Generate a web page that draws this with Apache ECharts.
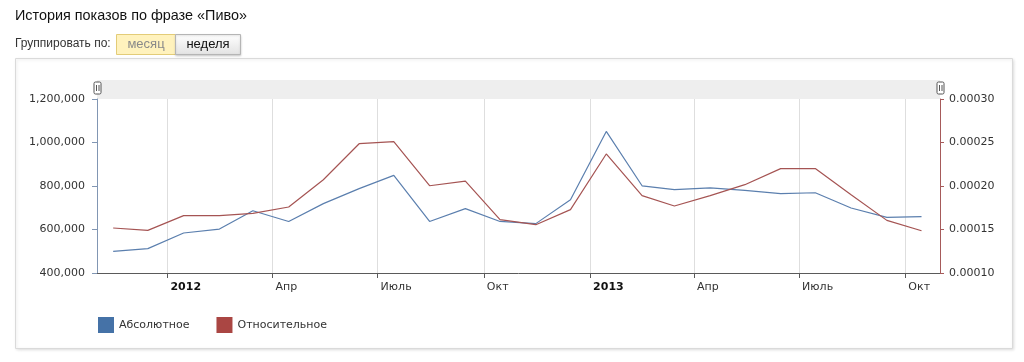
<!DOCTYPE html>
<html>
<head>
<meta charset="utf-8">
<script src="https://cdn.jsdelivr.net/npm/echarts@6/dist/echarts.min.js"></script>
<style>
html,body{margin:0;padding:0;background:#fff;}
#chart{width:1024px;height:362px;}
</style>
</head>
<body>
<div id="chart"></div>
<script>
// ---- data ----
var months = ['2011-11-15','2011-12-15','2012-01-15','2012-02-15','2012-03-15','2012-04-15','2012-05-15','2012-06-15','2012-07-15','2012-08-15','2012-09-15','2012-10-15','2012-11-15','2012-12-15','2013-01-15','2013-02-15','2013-03-15','2013-04-15','2013-05-15','2013-06-15','2013-07-15','2013-08-15','2013-09-15','2013-10-15'];
var absoluteValues = [499000,512000,584000,602000,686000,637000,719000,788000,849000,637000,696000,637000,627000,737000,1051000,801000,783000,791000,780000,765000,769000,699000,656000,659000];
var relativeValues = [0.0001517,0.0001490,0.0001659,0.0001659,0.0001685,0.0001759,0.0002072,0.0002486,0.0002509,0.0002003,0.0002057,0.0001613,0.0001555,0.0001728,0.0002368,0.0001889,0.0001770,0.0001890,0.0002015,0.0002200,0.0002200,0.0001900,0.0001605,0.0001486];
var monthNames = ['', '', '', 'Апр', '', '', 'Июль', '', '', 'Окт', '', ''];
var seriesNames = ['Абсолютное', 'Относительное'];
var titleText = 'История показов по фразе «Пиво»';
var groupLabel = 'Группировать по:';
var buttonLabels = ['месяц', 'неделя'];

var chart = echarts.init(document.getElementById('chart'), null, {renderer: 'canvas'});
var DAY = 24 * 3600 * 1000;
var absData = months.map(function (m, i) { return [m, absoluteValues[i]]; });
var relData = months.map(function (m, i) { return [m, relativeValues[i]]; });
var axisFont = 'DejaVu Sans';

function handle(x) {
  return {
    type: 'group', x: x, y: 82,
    children: [
      {type: 'rect', shape: {x: -3.5, y: 0, width: 7, height: 12, r: 1.5}, style: {fill: '#fff', stroke: '#555', lineWidth: 1}},
      {type: 'line', shape: {x1: -1, y1: 3, x2: -1, y2: 9}, style: {stroke: '#555', lineWidth: 1}},
      {type: 'line', shape: {x1: 1.5, y1: 3, x2: 1.5, y2: 9}, style: {stroke: '#555', lineWidth: 1}}
    ]
  };
}

var option = {
  animation: false,
  backgroundColor: '#fff',
  color: ['#4572A7', '#AA4643'],
  graphic: [
    {type: 'text', left: 15, top: 9, style: {text: titleText, fontFamily: 'Liberation Sans', fontSize: 14.4, fill: '#111'}},
    {type: 'text', left: 15, top: 38, style: {text: groupLabel, fontFamily: 'Liberation Sans', fontSize: 12, fill: '#333'}},
    {type: 'rect', shape: {x: 116.5, y: 34.5, width: 59, height: 20}, style: {fill: '#fff2bd', stroke: '#e3cc78', lineWidth: 1}},
    {type: 'text', x: 146, y: 44.5, style: {text: buttonLabels[0], fontFamily: 'Liberation Sans', fontSize: 13, fill: '#8a8a8a', align: 'center', verticalAlign: 'middle'}},
    {type: 'rect', shape: {x: 175.5, y: 34.5, width: 65, height: 20},
      style: {fill: new echarts.graphic.LinearGradient(0, 0, 0, 1, [{offset: 0, color: '#ffffff'}, {offset: 1, color: '#e2e2e2'}]), stroke: '#b5b5b5', lineWidth: 1, shadowBlur: 2, shadowColor: 'rgba(0,0,0,0.15)', shadowOffsetY: 1}},
    {type: 'text', x: 208, y: 44.5, style: {text: buttonLabels[1], fontFamily: 'Liberation Sans', fontSize: 13, fill: '#111', align: 'center', verticalAlign: 'middle'}},
    {type: 'rect', z: -10, shape: {x: 15.5, y: 58.5, width: 997, height: 290}, style: {fill: '#fff', stroke: '#dadada', lineWidth: 1, shadowBlur: 3, shadowColor: 'rgba(0,0,0,0.12)', shadowOffsetY: 1, shadowOffsetX: 1}},
    {type: 'rect', z: -5, shape: {x: 97, y: 80, width: 843, height: 19}, style: {fill: '#eeeeee'}},
    handle(97.5),
    handle(940.5)
  ],
  legend: {
    left: 93, top: 312,
    icon: 'rect', itemWidth: 16, itemHeight: 16, itemGap: 27,
    textStyle: {fontFamily: axisFont, fontSize: 11, color: '#333'},
    data: seriesNames
  },
  grid: {left: 97, right: 84, top: 99, bottom: 89, containLabel: false},
  xAxis: {
    type: 'time',
    min: '2011-11-01',
    max: '2013-10-31',
    minInterval: 85 * DAY,
    maxInterval: 95 * DAY,
    splitNumber: 8,
    axisLine: {lineStyle: {color: '#5a5a5a', width: 1}},
    axisTick: {show: true, length: 5, lineStyle: {color: '#5a5a5a'}},
    splitLine: {show: true, lineStyle: {color: '#dedede', width: 1}},
    axisLabel: {
      margin: 9,
      align: 'left',
      padding: [0, 0, 0, 3],
      fontFamily: axisFont, fontSize: 11, color: '#333',
      showMinLabel: false, showMaxLabel: false,
      hideOverlap: false,
      formatter: function (val) {
        var d = new Date(val);
        var m = d.getMonth();
        if (m === 0) return '{y|' + d.getFullYear() + '}';
        return monthNames[m];
      },
      rich: {y: {fontFamily: axisFont, fontSize: 11, fontWeight: 'bold', color: '#111'}}
    }
  },
  yAxis: [
    {
      type: 'value', position: 'left',
      min: 400000, max: 1200000, interval: 200000,
      axisLine: {show: true, lineStyle: {color: '#8196b3', width: 1}},
      axisTick: {show: true, length: 5, lineStyle: {color: '#8196b3'}},
      splitLine: {show: false},
      axisLabel: {
        margin: 12, fontFamily: axisFont, fontSize: 11, color: '#333',
        formatter: function (v) { return v.toString().replace(/\B(?=(\d{3})+(?!\d))/g, ','); }
      }
    },
    {
      type: 'value', position: 'right',
      min: 0.0001, max: 0.0003, interval: 0.00005,
      axisLine: {show: true, lineStyle: {color: '#a65a5a', width: 1}},
      axisTick: {show: true, length: 4, lineStyle: {color: '#a65a5a'}},
      splitLine: {show: false},
      axisLabel: {
        margin: 9, fontFamily: axisFont, fontSize: 11, color: '#333',
        formatter: function (v) { return v.toFixed(5); }
      }
    }
  ],
  series: [
    {name: seriesNames[0], type: 'line', yAxisIndex: 0, data: absData, showSymbol: false, symbol: 'none',
      lineStyle: {width: 1.2, color: '#5b7fae'}, itemStyle: {color: '#4572A7'}},
    {name: seriesNames[1], type: 'line', yAxisIndex: 1, data: relData, showSymbol: false, symbol: 'none',
      lineStyle: {width: 1.2, color: '#a55453'}, itemStyle: {color: '#AA4643'}}
  ]
};
chart.setOption(option);
</script>
</body>
</html>
